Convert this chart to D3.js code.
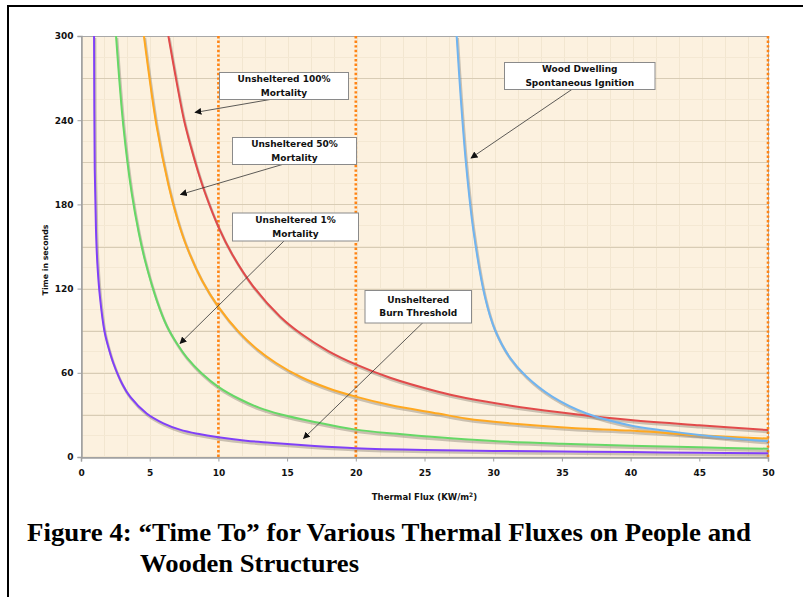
<!DOCTYPE html>
<html><head><meta charset="utf-8">
<script src="https://cdn.jsdelivr.net/npm/d3@7"></script>
<style>
html,body{margin:0;padding:0;background:#fff;}
svg{display:block;}
</style></head>
<body>
<svg id="chart" width="804" height="597"></svg>
<script>
// ---- Data ----
const xTicks = [0, 5, 10, 15, 20, 25, 30, 35, 40, 45, 50];
const yTicks = [0, 60, 120, 180, 240, 300];
const yGrid = [30, 60, 90, 120, 150, 180, 210, 240, 270];
const thresholdFlux = [10, 20, 50];

const burnFlux = [0.95, 1.0, 1.09, 1.19, 1.38, 1.7, 2.0, 2.35, 3.0, 3.57, 4.78, 6.0, 7.2, 8.5, 10, 12, 13.76, 17, 20, 25, 30, 35, 40, 45, 50];
const burnTime = [300, 205, 162, 138, 114, 90, 78, 67, 52, 43, 31, 24, 19.5, 16.5, 14, 11.6, 10.2, 7.9, 6.3, 5.0, 4.3, 3.9, 3.5, 3.0, 2.6];

const mort1Flux = [2.55, 3.08, 3.69, 4.2, 4.66, 5.5, 6.24, 7.0, 7.69, 8.8, 10, 11.5, 13, 14.5, 17, 20, 23, 26, 30, 35, 40, 45, 50];
const mort1Time = [300, 236, 188, 160, 140, 112, 93.5, 80.5, 71, 59.5, 50, 41.5, 35, 30.5, 25, 19.5, 16.5, 14, 11.4, 9.5, 8.1, 6.9, 5.9];

const mort50Flux = [4.58, 5.5, 6.36, 7.0, 7.69, 8.8, 10, 11.5, 12.8, 14.2, 16, 18, 20, 22.5, 26, 28, 32, 36, 40, 45, 50];
const mort50Time = [300, 236, 194, 170, 150, 126, 107, 89, 77, 67, 57, 49, 43, 37, 31, 27.5, 23.3, 20.5, 18.8, 15.5, 13.1];

const mort100Flux = [6.36, 7.0, 7.5, 8.0, 8.5, 9.0, 10, 11, 12.5, 14.5, 16, 18, 20, 22.5, 26, 28, 32, 36, 40, 45, 50];
const mort100Time = [300, 265, 240, 221, 204, 189, 164, 144.5, 122, 100, 88, 75.5, 66, 56.5, 46.5, 42, 35.5, 30.5, 26.4, 22.6, 19.2];

const woodFlux = [27.34, 27.63, 28.02, 28.55, 29.4, 30.13, 31.2, 32.4, 34.3, 36.8, 40, 42.5, 45, 47.5, 50];
const woodTime = [300, 257, 209, 162, 114, 90.5, 71, 57.5, 43, 31, 22.5, 18.8, 15.7, 13.2, 11.2];

const seriesNames = ["Unsheltered Burn Threshold", "Unsheltered 1% Mortality", "Unsheltered 50% Mortality", "Unsheltered 100% Mortality", "Wood Dwelling Spontaneous Ignition"];
const seriesColors = ["#8040F8", "#66D866", "#FFA820", "#E24A4A", "#70B4F0"];
</script>
<script>
const svg = d3.select("#chart");
const W = 804, H = 597;
const m = {left: 81, right: 768, top: 36, bottom: 457};

const x = d3.scaleLinear().domain([0, 50]).range([m.left, m.right]);
const y = d3.scaleLinear().domain([0, 300]).range([m.bottom, m.top]);

// Frame
svg.append("line").attr("x1", 8).attr("x2", 803).attr("y1", 6).attr("y2", 6).attr("stroke", "#000").attr("stroke-width", 2);
svg.append("line").attr("x1", 8).attr("x2", 8).attr("y1", 5).attr("y2", H).attr("stroke", "#000").attr("stroke-width", 2);

// Background texture pattern
const defs = svg.append("defs");
const pat = defs.append("pattern").attr("id", "tex").attr("patternUnits", "userSpaceOnUse")
  .attr("width", 23).attr("height", 21).attr("x", m.left).attr("y", m.top);
pat.append("rect").attr("width", 23).attr("height", 21).attr("fill", "#FCF1DF");
pat.append("line").attr("x1", 0.5).attr("x2", 0.5).attr("y1", 0).attr("y2", 21).attr("stroke", "#F2E6D0").attr("stroke-width", 1);
pat.append("line").attr("x1", 0).attr("x2", 23).attr("y1", 0.5).attr("y2", 0.5).attr("stroke", "#F4E8D3").attr("stroke-width", 1);

defs.append("clipPath").attr("id", "plotclip").append("rect")
  .attr("x", m.left).attr("y", m.top).attr("width", m.right - m.left).attr("height", m.bottom - m.top);

defs.append("marker").attr("id", "arrow").attr("viewBox", "0 0 10 10").attr("refX", 9).attr("refY", 5)
  .attr("markerWidth", 7).attr("markerHeight", 7).attr("orient", "auto-start-reverse").attr("markerUnits", "userSpaceOnUse")
  .append("path").attr("d", "M0,0 L10,5 L0,10 z").attr("fill", "#111");

svg.append("rect").attr("x", m.left).attr("y", m.top).attr("width", m.right - m.left).attr("height", m.bottom - m.top)
  .attr("fill", "url(#tex)");

// Grid lines
svg.append("g").selectAll("line").data(yGrid).join("line")
  .attr("x1", m.left).attr("x2", m.right).attr("y1", d => Math.round(y(d)) + 0.5).attr("y2", d => Math.round(y(d)) + 0.5)
  .attr("stroke", "#D8CCB5").attr("stroke-width", 1.2);

// Plot border
svg.append("rect").attr("x", m.left + 0.5).attr("y", m.top + 0.5).attr("width", m.right - m.left).attr("height", m.bottom - m.top)
  .attr("fill", "none").attr("stroke", "#A8A8A8").attr("stroke-width", 1);

// Axes
const xAxis = d3.axisBottom(x).tickValues(xTicks).tickSize(4).tickPadding(8).tickFormat(d3.format("d"));
const gx = svg.append("g").attr("transform", `translate(0,${m.bottom + 0.5})`).call(xAxis);
const yAxis = d3.axisLeft(y).tickValues(yTicks).tickSize(4).tickPadding(4).tickFormat(d3.format("d"));
const gy = svg.append("g").attr("transform", `translate(${m.left + 0.5},0)`).call(yAxis);
[gx, gy].forEach(g => {
  g.select(".domain").attr("stroke", "#A0A0A0").attr("stroke-width", 1.5);
  g.selectAll(".tick line").attr("stroke", "#A0A0A0");
  g.selectAll(".tick text").attr("font-family", "DejaVu Sans").attr("font-weight", "bold").attr("font-size", 9).attr("fill", "#111");
});

// Threshold dotted lines
svg.append("g").selectAll("line").data(thresholdFlux).join("line")
  .attr("x1", d => x(d)).attr("x2", d => x(d)).attr("y1", m.top).attr("y2", m.bottom)
  .attr("stroke", "#FF8414").attr("stroke-width", 2.6).attr("stroke-dasharray", "2.4,2.2");

// Curves
const seriesData = [
  d3.zip(burnFlux, burnTime),
  d3.zip(mort1Flux, mort1Time),
  d3.zip(mort50Flux, mort50Time),
  d3.zip(mort100Flux, mort100Time),
  d3.zip(woodFlux, woodTime)
];
const line = d3.line().x(d => x(d[0])).y(d => y(d[1])).curve(d3.curveCatmullRom.alpha(0.5));
const cg = svg.append("g").attr("clip-path", "url(#plotclip)");
seriesData.forEach((data, i) => {
  cg.append("path").attr("d", line(data)).attr("fill", "none")
    .attr("stroke", "rgba(110,100,90,0.35)").attr("stroke-width", 2.6).attr("transform", "translate(1,2)");
});
seriesData.forEach((data, i) => {
  cg.append("path").attr("d", line(data)).attr("fill", "none")
    .attr("stroke", seriesColors[i]).attr("stroke-width", 2);
});

// Annotation boxes
const notes = [
  {lines: ["Unsheltered 100%", "Mortality"], bx: 219, by: 72, bw: 129, bh: 27, ax1: 273, ay1: 99, ax2: 195, ay2: 112.5},
  {lines: ["Unsheltered 50%", "Mortality"], bx: 232, by: 137, bw: 124, bh: 27, ax1: 284, ay1: 164, ax2: 180.5, ay2: 194.5},
  {lines: ["Unsheltered 1%", "Mortality"], bx: 232, by: 212.5, bw: 126, bh: 28, ax1: 284, ay1: 241, ax2: 180, ay2: 343.5},
  {lines: ["Unsheltered", "Burn Threshold"], bx: 364.5, by: 290, bw: 106.5, bh: 32.5, ax1: 423, ay1: 322.5, ax2: 303.5, ay2: 438.5},
  {lines: ["Wood Dwelling", "Spontaneous Ignition"], bx: 504, by: 62, bw: 150.5, bh: 27, ax1: 572.5, ay1: 89, ax2: 471, ay2: 158}
];
const ng = svg.append("g");
notes.forEach(n => {
  ng.append("line").attr("x1", n.ax1).attr("y1", n.ay1).attr("x2", n.ax2).attr("y2", n.ay2)
    .attr("stroke", "#333").attr("stroke-width", 0.8).attr("marker-end", "url(#arrow)");
  ng.append("rect").attr("x", n.bx + 0.5).attr("y", n.by + 0.5).attr("width", n.bw).attr("height", n.bh)
    .attr("fill", "#fff").attr("stroke", "#8A8A8A").attr("stroke-width", 1);
  const cy = n.by + n.bh / 2;
  n.lines.forEach((t, k) => {
    ng.append("text").attr("x", n.bx + n.bw / 2 + 0.5).attr("y", cy + (k === 0 ? -3.3 : 10))
      .attr("text-anchor", "middle").attr("font-family", "DejaVu Sans").attr("font-weight", "bold")
      .attr("font-size", 9).attr("fill", "#111").text(t);
  });
});

// Axis titles
svg.append("text").attr("transform", "translate(48,260) rotate(-90)").attr("text-anchor", "middle")
  .attr("font-family", "DejaVu Sans").attr("font-weight", "bold").attr("font-size", 7.8).attr("fill", "#111")
  .text("Time in seconds");
const xt = svg.append("text").attr("x", 424.5).attr("y", 500).attr("text-anchor", "middle")
  .attr("font-family", "DejaVu Sans").attr("font-weight", "bold").attr("font-size", 8.5).attr("fill", "#111");
xt.append("tspan").text("Thermal Flux (KW/m");
xt.append("tspan").attr("dy", -3.5).attr("font-size", 6).text("2");
xt.append("tspan").attr("dy", 3.5).text(")");

// Caption
svg.append("text").attr("x", 27).attr("y", 541).attr("font-family", "Liberation Serif").attr("font-weight", "bold")
  .attr("font-size", 24.5).attr("fill", "#000").attr("textLength", 724).attr("lengthAdjust", "spacingAndGlyphs")
  .text("Figure 4: \u201CTime To\u201D for Various Thermal Fluxes on People and");
svg.append("text").attr("x", 140).attr("y", 572).attr("font-family", "Liberation Serif").attr("font-weight", "bold")
  .attr("font-size", 24.5).attr("fill", "#000").attr("textLength", 219).attr("lengthAdjust", "spacingAndGlyphs")
  .text("Wooden Structures");
</script>
</body></html>
